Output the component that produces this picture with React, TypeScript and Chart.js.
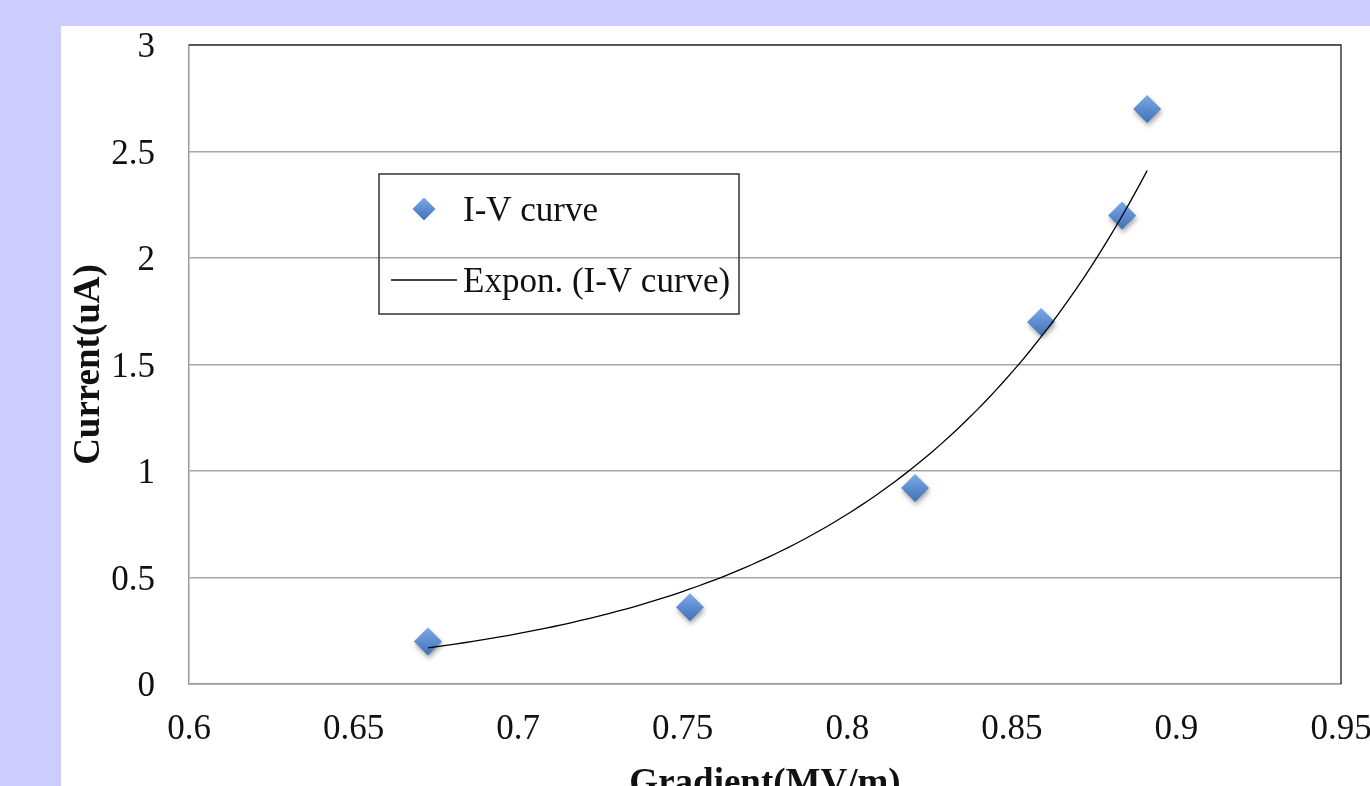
import React, { useEffect, useRef } from "react";
import { Chart, registerables } from "chart.js";

Chart.register(...registerables);

// ---- Data ----
const gradient = [0.6726, 0.7522, 0.8206, 0.8589, 0.8835, 0.8911];
const current = [0.2, 0.36, 0.92, 1.7, 2.2, 2.7];
const xTicks = [0.6, 0.65, 0.7, 0.75, 0.8, 0.85, 0.9, 0.95];
const xTickLabels = ["0.6", "0.65", "0.7", "0.75", "0.8", "0.85", "0.9", "0.95"];
const yTicks = [0, 0.5, 1, 1.5, 2, 2.5, 3];
const yTickLabels = ["0", "0.5", "1", "1.5", "2", "2.5", "3"];
const seriesLabel = "I-V curve";
const trendLabel = "Expon. (I-V curve)";
const xTitle = "Gradient(MV/m)";
const yTitle = "Current(uA)";

// Exponential trendline (least squares on ln y), as Excel computes it
function expFit(xs: number[], ys: number[]) {
  const n = xs.length;
  const ly = ys.map((v) => Math.log(v));
  const mx = xs.reduce((a, b) => a + b, 0) / n;
  const my = ly.reduce((a, b) => a + b, 0) / n;
  let sxy = 0, sxx = 0;
  for (let i = 0; i < n; i++) {
    sxy += (xs[i] - mx) * (ly[i] - my);
    sxx += (xs[i] - mx) * (xs[i] - mx);
  }
  const b = sxy / sxx;
  const a = Math.exp(my - b * mx);
  return { a, b };
}

const FONT = "'Liberation Serif', 'Times New Roman', serif";

export default function App() {
  const ref = useRef<HTMLCanvasElement | null>(null);

  useEffect(() => {
    if (!ref.current) return;
    const { a, b } = expFit(gradient, current);
    const x0 = Math.min(...gradient);
    const x1 = Math.max(...gradient);
    const steps = 80;
    const trend: { x: number; y: number }[] = [];
    for (let i = 0; i <= steps; i++) {
      const x = x0 + ((x1 - x0) * i) / steps;
      trend.push({ x, y: a * Math.exp(b * x) });
    }
    const points = gradient.map((x, i) => ({ x, y: current[i] }));

    const shadowPlugin = {
      id: "pointShadow",
      beforeDatasetDraw(chart: any, args: any) {
        if (args.index === 1) {
          const ctx = chart.ctx;
          ctx.save();
          ctx.shadowColor = "rgba(0,0,0,0.35)";
          ctx.shadowBlur = 5;
          ctx.shadowOffsetX = 1;
          ctx.shadowOffsetY = 3;
        }
      },
      afterDatasetDraw(chart: any, args: any) {
        if (args.index === 1) chart.ctx.restore();
      },
    };

    const borderPlugin = {
      id: "plotBorder",
      beforeDatasetsDraw(chart: any) {
        const { ctx, chartArea: ca } = chart;
        ctx.save();
        ctx.strokeStyle = "#3a3a3a";
        ctx.lineWidth = 1.5;
        ctx.beginPath();
        ctx.moveTo(ca.left, ca.top);
        ctx.lineTo(ca.right, ca.top);
        ctx.lineTo(ca.right, ca.bottom);
        ctx.stroke();
        ctx.restore();
      },
    };

    const legendPlugin = {
      id: "boxLegend",
      afterDraw(chart: any) {
        const ctx = chart.ctx;
        ctx.save();
        ctx.strokeStyle = "#333";
        ctx.lineWidth = 1.5;
        ctx.strokeRect(318, 148, 360, 140);
        // diamond
        const cx = 363, cy = 183, r = 11.5;
        const g = ctx.createLinearGradient(0, cy - r, 0, cy + r);
        g.addColorStop(0, "#7DA9E6");
        g.addColorStop(1, "#3F71B8");
        ctx.fillStyle = g;
        ctx.beginPath();
        ctx.moveTo(cx - r, cy);
        ctx.lineTo(cx, cy - r);
        ctx.lineTo(cx + r, cy);
        ctx.lineTo(cx, cy + r);
        ctx.closePath();
        ctx.fill();
        // line
        ctx.strokeStyle = "#000";
        ctx.lineWidth = 1.3;
        ctx.beginPath();
        ctx.moveTo(330, 254);
        ctx.lineTo(396, 254);
        ctx.stroke();
        ctx.fillStyle = "#111";
        ctx.font = `35px ${FONT}`;
        ctx.textBaseline = "middle";
        ctx.textAlign = "left";
        ctx.fillText(seriesLabel, 402, 186);
        ctx.fillText(trendLabel, 402, 257);
        ctx.restore();
      },
    };

    const chart = new Chart(ref.current, {
      type: "scatter",
      data: {
        datasets: [
          {
            type: "line",
            label: trendLabel,
            data: trend,
            borderColor: "#000",
            borderWidth: 1.3,
            pointRadius: 0,
            tension: 0,
            fill: false,
            order: 0,
          } as any,
          {
            label: seriesLabel,
            data: points,
            pointStyle: "rectRot",
            pointRadius: 14,
            pointHoverRadius: 14,
            pointBorderWidth: 0,
            pointBorderColor: "rgba(0,0,0,0)",
            pointBackgroundColor: (c: any) => {
              const ch = c.chart;
              const raw = c.raw;
              if (!raw || !ch.scales || !ch.scales.y) return "#5A8AD0";
              const py = ch.scales.y.getPixelForValue(raw.y);
              if (!isFinite(py)) return "#5A8AD0";
              const g = ch.ctx.createLinearGradient(0, py - 14, 0, py + 14);
              g.addColorStop(0, "#7DA9E6");
              g.addColorStop(1, "#3F71B8");
              return g;
            },
            order: 1,
          } as any,
        ],
      },
      options: {
        animation: false,
        responsive: false,
        devicePixelRatio: 1,
        layout: { padding: { top: 19, right: 29, left: 0, bottom: 0 } },
        plugins: {
          legend: { display: false },
          tooltip: { enabled: false },
        },
        scales: {
          x: {
            type: "linear",
            min: 0.6,
            max: 0.95,
            afterBuildTicks: (s: any) => {
              s.ticks = xTicks.map((v) => ({ value: v }));
            },
            afterFit: (s: any) => {
              s.height = 142;
              s.paddingLeft = 0;
              s.paddingRight = 0;
            },
            ticks: {
              callback: (v: any) => {
                const i = xTicks.findIndex((t) => Math.abs(t - v) < 1e-9);
                return i >= 0 ? xTickLabels[i] : "";
              },
              color: "#111",
              font: { family: FONT, size: 35 },
              padding: 25,
              maxRotation: 0,
              autoSkip: false,
            },
            grid: { display: false, drawTicks: false },
            border: { display: true, color: "#9a9a9a", width: 1.5 },
            title: {
              display: true,
              text: xTitle,
              color: "#111",
              font: { family: FONT, size: 37, weight: "bold" },
              padding: { top: 0, bottom: 19 },
            },
          },
          y: {
            type: "linear",
            min: 0,
            max: 3,
            afterBuildTicks: (s: any) => {
              s.ticks = yTicks.map((v) => ({ value: v }));
            },
            afterFit: (s: any) => {
              s.width = 128;
              s.paddingTop = 0;
              s.paddingBottom = 0;
            },
            ticks: {
              callback: (v: any) => {
                const i = yTicks.findIndex((t) => Math.abs(t - v) < 1e-9);
                return i >= 0 ? yTickLabels[i] : "";
              },
              color: "#111",
              font: { family: FONT, size: 35 },
              padding: 34,
              labelOffset: 3,
            },
            grid: { color: "#a6a6a6", lineWidth: 1.5, drawTicks: false },
            border: { display: true, color: "#9a9a9a", width: 1.5 },
            title: {
              display: true,
              text: yTitle,
              color: "#111",
              font: { family: FONT, size: 37, weight: "bold" },
              padding: { top: 6, bottom: 0 },
            },
          },
        },
      },
      plugins: [borderPlugin, shadowPlugin, legendPlugin],
    });
    return () => chart.destroy();
  }, []);

  return (
    <div
      style={{
        position: "fixed",
        left: 0,
        top: 0,
        width: 1370,
        height: 786,
        background: "#CCCCFF",
        overflow: "hidden",
      }}
    >
      <div
        style={{
          position: "absolute",
          left: 61,
          top: 26,
          width: 1309,
          height: 800,
          background: "#FFFFFF",
        }}
      >
        <canvas ref={ref} width={1309} height={800} style={{ display: "block", width: 1309, height: 800 }} />
      </div>
    </div>
  );
}
